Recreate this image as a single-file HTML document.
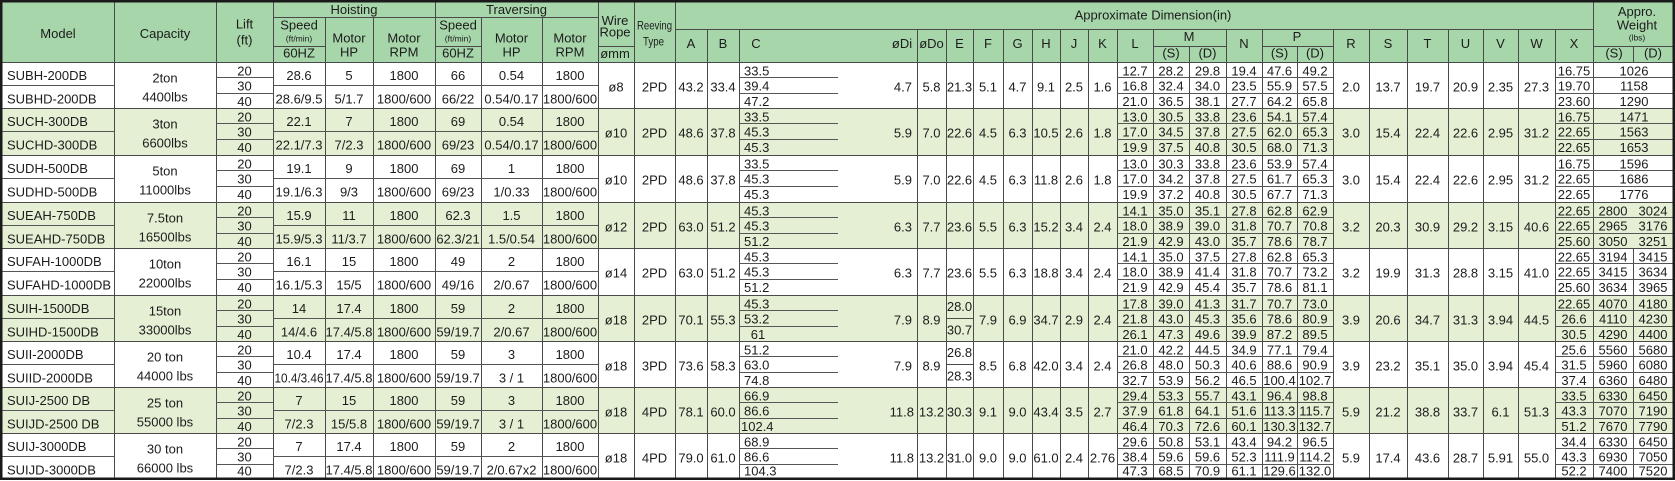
<!DOCTYPE html>
<html><head><meta charset="utf-8"><style>
html,body{margin:0;padding:0;background:#fff;}
svg{display:block;}
text{font-family:"Liberation Sans",Arial,sans-serif;font-size:13px;fill:#1c1c1c;text-anchor:middle;}
.l{text-anchor:start;}
.e{text-anchor:end;}
.s{font-size:8.5px;}
</style></head><body>
<svg width="1675" height="481" viewBox="0 0 1675 481" xmlns="http://www.w3.org/2000/svg">
<defs>
<g id="gl" stroke="#555" stroke-width="1" fill="none" shape-rendering="crispEdges">
<path d="M2 23.5H114M273 23.5H598M216 15.5H273M216 31.5H273M739 15.5H838M739 31.5H838M1117 15.5H1333M1117 31.5H1333M1555 15.5H1673M1555 31.5H1673"/>
</g>
</defs>
<rect x="0" y="0" width="1675" height="481" fill="#fff"/>
<rect x="0" y="0" width="1675" height="62" fill="#a7d6aa"/>
<rect x="2" y="108" width="1671" height="47" fill="#e5efd4"/>
<rect x="2" y="202" width="1671" height="46" fill="#e5efd4"/>
<rect x="2" y="295" width="1671" height="46" fill="#e5efd4"/>
<rect x="2" y="387" width="1671" height="46" fill="#e5efd4"/>

<g stroke="#4a4a4a" stroke-width="1" fill="none" shape-rendering="crispEdges">
<path d="M114.5 2V478M216.5 2V478M273.5 2V478M435.5 2V478M598.5 2V478M634.5 2V478M675.5 2V478M1593.5 2V478"/>
<path d="M325.5 17V478M373.5 17V478M481.5 17V478M542.5 17V478"/>
<path d="M707.5 29V478M739.5 29V478M917.5 29V478M946.5 29V478M973.5 29V478M1003.5 29V478M1032.5 29V478M1060.5 29V478M1088.5 29V478M1117.5 29V478M1153.5 29V478M1226.5 29V478M1262.5 29V478M1333.5 29V478M1369.5 29V478M1407.5 29V478M1448.5 29V478M1483.5 29V478M1518.5 29V478M1555.5 29V478"/>
<path d="M1189.5 46V478M1297.5 46V478M1633.5 46V62M1633.5 248V478"/>
<path d="M273 17.5H598M675 29.5H1593M273 46.5H325M435 46.5H481M598 46.5H634M1153 46.5H1226M1262 46.5H1333M1593 46.5H1673M2 62.5H1673"/>
<path d="M2 108.5H1673M2 155.5H1673M2 202.5H1673M2 248.5H1673M2 295.5H1673M2 341.5H1673M2 387.5H1673M2 433.5H1673"/>
<path d="M946 318.5H973M946 364.5H973"/>
</g>
<use href="#gl" transform="translate(0,62)"/>
<use href="#gl" transform="translate(0,108)"/>
<use href="#gl" transform="translate(0,155)"/>
<use href="#gl" transform="translate(0,202)"/>
<use href="#gl" transform="translate(0,248)"/>
<use href="#gl" transform="translate(0,295)"/>
<use href="#gl" transform="translate(0,341)"/>
<use href="#gl" transform="translate(0,387)"/>
<use href="#gl" transform="translate(0,433)"/>
<rect x="1.25" y="1.25" width="1672.5" height="477.5" fill="none" stroke="#1a1a1a" stroke-width="2.5"/>

<!-- HEADER -->
<text x="58" y="38">Model</text>
<text x="165" y="38">Capacity</text>
<text x="244.5" y="28.5">Lift</text>
<text x="244.5" y="44.5">(ft)</text>
<text x="354" y="14">Hoisting</text>
<text x="516.5" y="14">Traversing</text>
<text x="299" y="29.5">Speed</text>
<text x="299" y="41.5" class="s">(ft/min)</text>
<text x="299" y="57.5">60HZ</text>
<text x="349" y="42.5">Motor</text>
<text x="349" y="56.5">HP</text>
<text x="404" y="42.5">Motor</text>
<text x="404" y="56.5">RPM</text>
<text x="458" y="29.5">Speed</text>
<text x="458" y="41.5" class="s">(ft/min)</text>
<text x="458" y="57.5">60HZ</text>
<text x="511.5" y="42.5">Motor</text>
<text x="511.5" y="56.5">HP</text>
<text x="570" y="42.5">Motor</text>
<text x="570" y="56.5">RPM</text>
<text x="615" y="25">Wire</text>
<text x="615" y="36.5">Rope</text>
<text x="615" y="58">ømm</text>
<text x="654.5" y="29.5" style="font-size:12px" textLength="35" lengthAdjust="spacingAndGlyphs">Reeving</text>
<text x="653.5" y="45.5" style="font-size:12px" textLength="21" lengthAdjust="spacingAndGlyphs">Type</text>
<text x="1153" y="19.5">Approximate Dimension(in)</text>
<text y="48"><tspan x="691">A</tspan><tspan x="723">B</tspan><tspan x="756">C</tspan><tspan x="902">øDi</tspan><tspan x="931.5">øDo</tspan><tspan x="959.5">E</tspan><tspan x="988">F</tspan><tspan x="1017.5">G</tspan><tspan x="1046">H</tspan><tspan x="1074">J</tspan><tspan x="1102.5">K</tspan><tspan x="1135">L</tspan><tspan x="1244">N</tspan><tspan x="1351">R</tspan><tspan x="1388">S</tspan><tspan x="1427.5">T</tspan><tspan x="1465.5">U</tspan><tspan x="1500.5">V</tspan><tspan x="1536.5">W</tspan><tspan x="1574">X</tspan></text>
<text y="41"><tspan x="1189">M</tspan><tspan x="1297">P</tspan></text>
<text y="57.5"><tspan x="1171">(S)</tspan><tspan x="1207.5">(D)</tspan><tspan x="1279.5">(S)</tspan><tspan x="1315">(D)</tspan><tspan x="1614">(S)</tspan><tspan x="1653">(D)</tspan></text>
<text x="1637" y="16">Appro.</text>
<text x="1637" y="29.5">Weight</text>
<text x="1637" y="40.5" class="s">(lbs)</text>

<!-- GROUP 1 -->
<g transform="translate(0,62)">
<text x="7" y="18" class="l">SUBH-200DB</text>
<text x="7" y="41.5" class="l">SUBHD-200DB</text>
<text x="165" y="20.5">2ton</text><text x="165" y="39.5">4400lbs</text>
<text y="18"><tspan x="299">28.6</tspan><tspan x="349">5</tspan><tspan x="404">1800</tspan><tspan x="458">66</tspan><tspan x="511.5">0.54</tspan><tspan x="570">1800</tspan></text>
<text y="41.5"><tspan x="299">28.6/9.5</tspan><tspan x="349">5/1.7</tspan><tspan x="404">1800/600</tspan><tspan x="458">66/22</tspan><tspan x="511.5">0.54/0.17</tspan><tspan x="570">1800/600</tspan></text>
<text y="29.5"><tspan x="616">ø8</tspan><tspan x="654.5">2PD</tspan><tspan x="691">43.2</tspan><tspan x="723">33.4</tspan><tspan x="931.5">5.8</tspan><tspan x="959.5">21.3</tspan><tspan x="988">5.1</tspan><tspan x="1017.5">4.7</tspan><tspan x="1046">9.1</tspan><tspan x="1074">2.5</tspan><tspan x="1102.5">1.6</tspan><tspan x="1351">2.0</tspan><tspan x="1388">13.7</tspan><tspan x="1427.5">19.7</tspan><tspan x="1465.5">20.9</tspan><tspan x="1500.5">2.35</tspan><tspan x="1536.5">27.3</tspan></text>
<text x="912" y="29.5" class="e">4.7</text>
<text class="l" x="744" y="13.5">33.5</text><text class="l" x="744" y="28.5">39.4</text><text class="l" x="744" y="44">47.2</text>
<text y="13.5"><tspan x="244.5">20</tspan><tspan x="1135">12.7</tspan><tspan x="1171">28.2</tspan><tspan x="1207.5">29.8</tspan><tspan x="1244">19.4</tspan><tspan x="1279.5">47.6</tspan><tspan x="1315">49.2</tspan><tspan x="1574">16.75</tspan><tspan x="1634">1026</tspan></text>
<text y="28.5"><tspan x="244.5">30</tspan><tspan x="1135">16.8</tspan><tspan x="1171">32.4</tspan><tspan x="1207.5">34.0</tspan><tspan x="1244">23.5</tspan><tspan x="1279.5">55.9</tspan><tspan x="1315">57.5</tspan><tspan x="1574">19.70</tspan><tspan x="1634">1158</tspan></text>
<text y="44"><tspan x="244.5">40</tspan><tspan x="1135">21.0</tspan><tspan x="1171">36.5</tspan><tspan x="1207.5">38.1</tspan><tspan x="1244">27.7</tspan><tspan x="1279.5">64.2</tspan><tspan x="1315">65.8</tspan><tspan x="1574">23.60</tspan><tspan x="1634">1290</tspan></text>
</g>

<!-- GROUP 2 -->
<g transform="translate(0,108)">
<text x="7" y="18" class="l">SUCH-300DB</text>
<text x="7" y="41.5" class="l">SUCHD-300DB</text>
<text x="165" y="20.5">3ton</text><text x="165" y="39.5">6600lbs</text>
<text y="18"><tspan x="299">22.1</tspan><tspan x="349">7</tspan><tspan x="404">1800</tspan><tspan x="458">69</tspan><tspan x="511.5">0.54</tspan><tspan x="570">1800</tspan></text>
<text y="41.5"><tspan x="299">22.1/7.3</tspan><tspan x="349">7/2.3</tspan><tspan x="404">1800/600</tspan><tspan x="458">69/23</tspan><tspan x="511.5">0.54/0.17</tspan><tspan x="570">1800/600</tspan></text>
<text y="29.5"><tspan x="616">ø10</tspan><tspan x="654.5">2PD</tspan><tspan x="691">48.6</tspan><tspan x="723">37.8</tspan><tspan x="931.5">7.0</tspan><tspan x="959.5">22.6</tspan><tspan x="988">4.5</tspan><tspan x="1017.5">6.3</tspan><tspan x="1046">10.5</tspan><tspan x="1074">2.6</tspan><tspan x="1102.5">1.8</tspan><tspan x="1351">3.0</tspan><tspan x="1388">15.4</tspan><tspan x="1427.5">22.4</tspan><tspan x="1465.5">22.6</tspan><tspan x="1500.5">2.95</tspan><tspan x="1536.5">31.2</tspan></text>
<text x="912" y="29.5" class="e">5.9</text>
<text class="l" x="744" y="13.5">33.5</text><text class="l" x="744" y="28.5">45.3</text><text class="l" x="744" y="44">45.3</text>
<text y="13.5"><tspan x="244.5">20</tspan><tspan x="1135">13.0</tspan><tspan x="1171">30.5</tspan><tspan x="1207.5">33.8</tspan><tspan x="1244">23.6</tspan><tspan x="1279.5">54.1</tspan><tspan x="1315">57.4</tspan><tspan x="1574">16.75</tspan><tspan x="1634">1471</tspan></text>
<text y="28.5"><tspan x="244.5">30</tspan><tspan x="1135">17.0</tspan><tspan x="1171">34.5</tspan><tspan x="1207.5">37.8</tspan><tspan x="1244">27.5</tspan><tspan x="1279.5">62.0</tspan><tspan x="1315">65.3</tspan><tspan x="1574">22.65</tspan><tspan x="1634">1563</tspan></text>
<text y="44"><tspan x="244.5">40</tspan><tspan x="1135">19.9</tspan><tspan x="1171">37.5</tspan><tspan x="1207.5">40.8</tspan><tspan x="1244">30.5</tspan><tspan x="1279.5">68.0</tspan><tspan x="1315">71.3</tspan><tspan x="1574">22.65</tspan><tspan x="1634">1653</tspan></text>
</g>

<!-- GROUP 3 -->
<g transform="translate(0,155)">
<text x="7" y="18" class="l">SUDH-500DB</text>
<text x="7" y="41.5" class="l">SUDHD-500DB</text>
<text x="165" y="20.5">5ton</text><text x="165" y="39.5">11000lbs</text>
<text y="18"><tspan x="299">19.1</tspan><tspan x="349">9</tspan><tspan x="404">1800</tspan><tspan x="458">69</tspan><tspan x="511.5">1</tspan><tspan x="570">1800</tspan></text>
<text y="41.5"><tspan x="299">19.1/6.3</tspan><tspan x="349">9/3</tspan><tspan x="404">1800/600</tspan><tspan x="458">69/23</tspan><tspan x="511.5">1/0.33</tspan><tspan x="570">1800/600</tspan></text>
<text y="29.5"><tspan x="616">ø10</tspan><tspan x="654.5">2PD</tspan><tspan x="691">48.6</tspan><tspan x="723">37.8</tspan><tspan x="931.5">7.0</tspan><tspan x="959.5">22.6</tspan><tspan x="988">4.5</tspan><tspan x="1017.5">6.3</tspan><tspan x="1046">11.8</tspan><tspan x="1074">2.6</tspan><tspan x="1102.5">1.8</tspan><tspan x="1351">3.0</tspan><tspan x="1388">15.4</tspan><tspan x="1427.5">22.4</tspan><tspan x="1465.5">22.6</tspan><tspan x="1500.5">2.95</tspan><tspan x="1536.5">31.2</tspan></text>
<text x="912" y="29.5" class="e">5.9</text>
<text class="l" x="744" y="13.5">33.5</text><text class="l" x="744" y="28.5">45.3</text><text class="l" x="744" y="44">45.3</text>
<text y="13.5"><tspan x="244.5">20</tspan><tspan x="1135">13.0</tspan><tspan x="1171">30.3</tspan><tspan x="1207.5">33.8</tspan><tspan x="1244">23.6</tspan><tspan x="1279.5">53.9</tspan><tspan x="1315">57.4</tspan><tspan x="1574">16.75</tspan><tspan x="1634">1596</tspan></text>
<text y="28.5"><tspan x="244.5">30</tspan><tspan x="1135">17.0</tspan><tspan x="1171">34.2</tspan><tspan x="1207.5">37.8</tspan><tspan x="1244">27.5</tspan><tspan x="1279.5">61.7</tspan><tspan x="1315">65.3</tspan><tspan x="1574">22.65</tspan><tspan x="1634">1686</tspan></text>
<text y="44"><tspan x="244.5">40</tspan><tspan x="1135">19.9</tspan><tspan x="1171">37.2</tspan><tspan x="1207.5">40.8</tspan><tspan x="1244">30.5</tspan><tspan x="1279.5">67.7</tspan><tspan x="1315">71.3</tspan><tspan x="1574">22.65</tspan><tspan x="1634">1776</tspan></text>
</g>

<!-- GROUP 4 -->
<g transform="translate(0,202)">
<text x="7" y="18" class="l">SUEAH-750DB</text>
<text x="7" y="41.5" class="l">SUEAHD-750DB</text>
<text x="165" y="20.5">7.5ton</text><text x="165" y="39.5">16500lbs</text>
<text y="18"><tspan x="299">15.9</tspan><tspan x="349">11</tspan><tspan x="404">1800</tspan><tspan x="458">62.3</tspan><tspan x="511.5">1.5</tspan><tspan x="570">1800</tspan></text>
<text y="41.5"><tspan x="299">15.9/5.3</tspan><tspan x="349">11/3.7</tspan><tspan x="404">1800/600</tspan><tspan x="458">62.3/21</tspan><tspan x="511.5">1.5/0.54</tspan><tspan x="570">1800/600</tspan></text>
<text y="29.5"><tspan x="616">ø12</tspan><tspan x="654.5">2PD</tspan><tspan x="691">63.0</tspan><tspan x="723">51.2</tspan><tspan x="931.5">7.7</tspan><tspan x="959.5">23.6</tspan><tspan x="988">5.5</tspan><tspan x="1017.5">6.3</tspan><tspan x="1046">15.2</tspan><tspan x="1074">3.4</tspan><tspan x="1102.5">2.4</tspan><tspan x="1351">3.2</tspan><tspan x="1388">20.3</tspan><tspan x="1427.5">30.9</tspan><tspan x="1465.5">29.2</tspan><tspan x="1500.5">3.15</tspan><tspan x="1536.5">40.6</tspan></text>
<text x="912" y="29.5" class="e">6.3</text>
<text class="l" x="744" y="13.5">45.3</text><text class="l" x="744" y="28.5">45.3</text><text class="l" x="744" y="44">51.2</text>
<text y="13.5"><tspan x="244.5">20</tspan><tspan x="1135">14.1</tspan><tspan x="1171">35.0</tspan><tspan x="1207.5">35.1</tspan><tspan x="1244">27.8</tspan><tspan x="1279.5">62.8</tspan><tspan x="1315">62.9</tspan><tspan x="1574">22.65</tspan><tspan x="1613">2800</tspan><tspan x="1653">3024</tspan></text>
<text y="28.5"><tspan x="244.5">30</tspan><tspan x="1135">18.0</tspan><tspan x="1171">38.9</tspan><tspan x="1207.5">39.0</tspan><tspan x="1244">31.8</tspan><tspan x="1279.5">70.7</tspan><tspan x="1315">70.8</tspan><tspan x="1574">22.65</tspan><tspan x="1613">2965</tspan><tspan x="1653">3176</tspan></text>
<text y="44"><tspan x="244.5">40</tspan><tspan x="1135">21.9</tspan><tspan x="1171">42.9</tspan><tspan x="1207.5">43.0</tspan><tspan x="1244">35.7</tspan><tspan x="1279.5">78.6</tspan><tspan x="1315">78.7</tspan><tspan x="1574">25.60</tspan><tspan x="1613">3050</tspan><tspan x="1653">3251</tspan></text>
</g>

<!-- GROUP 5 -->
<g transform="translate(0,248)">
<text x="7" y="18" class="l">SUFAH-1000DB</text>
<text x="7" y="41.5" class="l" textLength="104" lengthAdjust="spacingAndGlyphs">SUFAHD-1000DB</text>
<text x="165" y="20.5">10ton</text><text x="165" y="39.5">22000lbs</text>
<text y="18"><tspan x="299">16.1</tspan><tspan x="349">15</tspan><tspan x="404">1800</tspan><tspan x="458">49</tspan><tspan x="511.5">2</tspan><tspan x="570">1800</tspan></text>
<text y="41.5"><tspan x="299">16.1/5.3</tspan><tspan x="349">15/5</tspan><tspan x="404">1800/600</tspan><tspan x="458">49/16</tspan><tspan x="511.5">2/0.67</tspan><tspan x="570">1800/600</tspan></text>
<text y="29.5"><tspan x="616">ø14</tspan><tspan x="654.5">2PD</tspan><tspan x="691">63.0</tspan><tspan x="723">51.2</tspan><tspan x="931.5">7.7</tspan><tspan x="959.5">23.6</tspan><tspan x="988">5.5</tspan><tspan x="1017.5">6.3</tspan><tspan x="1046">18.8</tspan><tspan x="1074">3.4</tspan><tspan x="1102.5">2.4</tspan><tspan x="1351">3.2</tspan><tspan x="1388">19.9</tspan><tspan x="1427.5">31.3</tspan><tspan x="1465.5">28.8</tspan><tspan x="1500.5">3.15</tspan><tspan x="1536.5">41.0</tspan></text>
<text x="912" y="29.5" class="e">6.3</text>
<text class="l" x="744" y="13.5">45.3</text><text class="l" x="744" y="28.5">45.3</text><text class="l" x="744" y="44">51.2</text>
<text y="13.5"><tspan x="244.5">20</tspan><tspan x="1135">14.1</tspan><tspan x="1171">35.0</tspan><tspan x="1207.5">37.5</tspan><tspan x="1244">27.8</tspan><tspan x="1279.5">62.8</tspan><tspan x="1315">65.3</tspan><tspan x="1574">22.65</tspan><tspan x="1613">3194</tspan><tspan x="1653">3415</tspan></text>
<text y="28.5"><tspan x="244.5">30</tspan><tspan x="1135">18.0</tspan><tspan x="1171">38.9</tspan><tspan x="1207.5">41.4</tspan><tspan x="1244">31.8</tspan><tspan x="1279.5">70.7</tspan><tspan x="1315">73.2</tspan><tspan x="1574">22.65</tspan><tspan x="1613">3415</tspan><tspan x="1653">3634</tspan></text>
<text y="44"><tspan x="244.5">40</tspan><tspan x="1135">21.9</tspan><tspan x="1171">42.9</tspan><tspan x="1207.5">45.4</tspan><tspan x="1244">35.7</tspan><tspan x="1279.5">78.6</tspan><tspan x="1315">81.1</tspan><tspan x="1574">25.60</tspan><tspan x="1613">3634</tspan><tspan x="1653">3965</tspan></text>
</g>

<!-- GROUP 6 -->
<g transform="translate(0,295)">
<text x="7" y="18" class="l">SUIH-1500DB</text>
<text x="7" y="41.5" class="l">SUIHD-1500DB</text>
<text x="165" y="20.5">15ton</text><text x="165" y="39.5">33000lbs</text>
<text y="18"><tspan x="299">14</tspan><tspan x="349">17.4</tspan><tspan x="404">1800</tspan><tspan x="458">59</tspan><tspan x="511.5">2</tspan><tspan x="570">1800</tspan></text>
<text y="41.5"><tspan x="299">14/4.6</tspan><tspan x="349">17.4/5.8</tspan><tspan x="404">1800/600</tspan><tspan x="458">59/19.7</tspan><tspan x="511.5">2/0.67</tspan><tspan x="570">1800/600</tspan></text>
<text y="29.5"><tspan x="616">ø18</tspan><tspan x="654.5">2PD</tspan><tspan x="691">70.1</tspan><tspan x="723">55.3</tspan><tspan x="931.5">8.9</tspan><tspan x="988">7.9</tspan><tspan x="1017.5">6.9</tspan><tspan x="1046">34.7</tspan><tspan x="1074">2.9</tspan><tspan x="1102.5">2.4</tspan><tspan x="1351">3.9</tspan><tspan x="1388">20.6</tspan><tspan x="1427.5">34.7</tspan><tspan x="1465.5">31.3</tspan><tspan x="1500.5">3.94</tspan><tspan x="1536.5">44.5</tspan></text>
<text x="912" y="29.5" class="e">7.9</text>
<text x="959.5" y="16">28.0</text><text x="959.5" y="39.5">30.7</text>
<text class="l" x="744" y="13.5">45.3</text><text class="l" x="744" y="28.5">53.2</text><text x="758" y="44">61</text>
<text y="13.5"><tspan x="244.5">20</tspan><tspan x="1135">17.8</tspan><tspan x="1171">39.0</tspan><tspan x="1207.5">41.3</tspan><tspan x="1244">31.7</tspan><tspan x="1279.5">70.7</tspan><tspan x="1315">73.0</tspan><tspan x="1574">22.65</tspan><tspan x="1613">4070</tspan><tspan x="1653">4180</tspan></text>
<text y="28.5"><tspan x="244.5">30</tspan><tspan x="1135">21.8</tspan><tspan x="1171">43.0</tspan><tspan x="1207.5">45.3</tspan><tspan x="1244">35.6</tspan><tspan x="1279.5">78.6</tspan><tspan x="1315">80.9</tspan><tspan x="1574">26.6</tspan><tspan x="1613">4110</tspan><tspan x="1653">4230</tspan></text>
<text y="44"><tspan x="244.5">40</tspan><tspan x="1135">26.1</tspan><tspan x="1171">47.3</tspan><tspan x="1207.5">49.6</tspan><tspan x="1244">39.9</tspan><tspan x="1279.5">87.2</tspan><tspan x="1315">89.5</tspan><tspan x="1574">30.5</tspan><tspan x="1613">4290</tspan><tspan x="1653">4400</tspan></text>
</g>

<!-- GROUP 7 -->
<g transform="translate(0,341)">
<text x="7" y="18" class="l">SUII-2000DB</text>
<text x="7" y="41.5" class="l">SUIID-2000DB</text>
<text x="165" y="20.5">20 ton</text><text x="165" y="39.5">44000 lbs</text>
<text y="18"><tspan x="299">10.4</tspan><tspan x="349">17.4</tspan><tspan x="404">1800</tspan><tspan x="458">59</tspan><tspan x="511.5">3</tspan><tspan x="570">1800</tspan></text>
<text x="299" y="41.5" textLength="49" lengthAdjust="spacingAndGlyphs">10.4/3.46</text>
<text y="41.5"><tspan x="349">17.4/5.8</tspan><tspan x="404">1800/600</tspan><tspan x="458">59/19.7</tspan><tspan x="511.5">3 / 1</tspan><tspan x="570">1800/600</tspan></text>
<text y="29.5"><tspan x="616">ø18</tspan><tspan x="654.5">3PD</tspan><tspan x="691">73.6</tspan><tspan x="723">58.3</tspan><tspan x="931.5">8.9</tspan><tspan x="988">8.5</tspan><tspan x="1017.5">6.8</tspan><tspan x="1046">42.0</tspan><tspan x="1074">3.4</tspan><tspan x="1102.5">2.4</tspan><tspan x="1351">3.9</tspan><tspan x="1388">23.2</tspan><tspan x="1427.5">35.1</tspan><tspan x="1465.5">35.0</tspan><tspan x="1500.5">3.94</tspan><tspan x="1536.5">45.4</tspan></text>
<text x="912" y="29.5" class="e">7.9</text>
<text x="959.5" y="16">26.8</text><text x="959.5" y="39.5">28.3</text>
<text class="l" x="744" y="13.5">51.2</text><text class="l" x="744" y="28.5">63.0</text><text class="l" x="744" y="44">74.8</text>
<text y="13.5"><tspan x="244.5">20</tspan><tspan x="1135">21.0</tspan><tspan x="1171">42.2</tspan><tspan x="1207.5">44.5</tspan><tspan x="1244">34.9</tspan><tspan x="1279.5">77.1</tspan><tspan x="1315">79.4</tspan><tspan x="1574">25.6</tspan><tspan x="1613">5560</tspan><tspan x="1653">5680</tspan></text>
<text y="28.5"><tspan x="244.5">30</tspan><tspan x="1135">26.8</tspan><tspan x="1171">48.0</tspan><tspan x="1207.5">50.3</tspan><tspan x="1244">40.6</tspan><tspan x="1279.5">88.6</tspan><tspan x="1315">90.9</tspan><tspan x="1574">31.5</tspan><tspan x="1613">5960</tspan><tspan x="1653">6080</tspan></text>
<text y="44"><tspan x="244.5">40</tspan><tspan x="1135">32.7</tspan><tspan x="1171">53.9</tspan><tspan x="1207.5">56.2</tspan><tspan x="1244">46.5</tspan><tspan x="1279.5">100.4</tspan><tspan x="1315">102.7</tspan><tspan x="1574">37.4</tspan><tspan x="1613">6360</tspan><tspan x="1653">6480</tspan></text>
</g>

<!-- GROUP 8 -->
<g transform="translate(0,387)">
<text x="7" y="18" class="l">SUIJ-2500 DB</text>
<text x="7" y="41.5" class="l">SUIJD-2500 DB</text>
<text x="165" y="20.5">25 ton</text><text x="165" y="39.5">55000 lbs</text>
<text y="18"><tspan x="299">7</tspan><tspan x="349">15</tspan><tspan x="404">1800</tspan><tspan x="458">59</tspan><tspan x="511.5">3</tspan><tspan x="570">1800</tspan></text>
<text y="41.5"><tspan x="299">7/2.3</tspan><tspan x="349">15/5.8</tspan><tspan x="404">1800/600</tspan><tspan x="458">59/19.7</tspan><tspan x="511.5">3 / 1</tspan><tspan x="570">1800/600</tspan></text>
<text y="29.5"><tspan x="616">ø18</tspan><tspan x="654.5">4PD</tspan><tspan x="691">78.1</tspan><tspan x="723">60.0</tspan><tspan x="931.5">13.2</tspan><tspan x="959.5">30.3</tspan><tspan x="988">9.1</tspan><tspan x="1017.5">9.0</tspan><tspan x="1046">43.4</tspan><tspan x="1074">3.5</tspan><tspan x="1102.5">2.7</tspan><tspan x="1351">5.9</tspan><tspan x="1388">21.2</tspan><tspan x="1427.5">38.8</tspan><tspan x="1465.5">33.7</tspan><tspan x="1500.5">6.1</tspan><tspan x="1536.5">51.3</tspan></text>
<text x="914" y="29.5" class="e">11.8</text>
<text class="l" x="744" y="13.5">66.9</text><text class="l" x="744" y="28.5">86.6</text><text class="l" x="741" y="44">102.4</text>
<text y="13.5"><tspan x="244.5">20</tspan><tspan x="1135">29.4</tspan><tspan x="1171">53.3</tspan><tspan x="1207.5">55.7</tspan><tspan x="1244">43.1</tspan><tspan x="1279.5">96.4</tspan><tspan x="1315">98.8</tspan><tspan x="1574">33.5</tspan><tspan x="1613">6330</tspan><tspan x="1653">6450</tspan></text>
<text y="28.5"><tspan x="244.5">30</tspan><tspan x="1135">37.9</tspan><tspan x="1171">61.8</tspan><tspan x="1207.5">64.1</tspan><tspan x="1244">51.6</tspan><tspan x="1279.5">113.3</tspan><tspan x="1315">115.7</tspan><tspan x="1574">43.3</tspan><tspan x="1613">7070</tspan><tspan x="1653">7190</tspan></text>
<text y="44"><tspan x="244.5">40</tspan><tspan x="1135">46.4</tspan><tspan x="1171">70.3</tspan><tspan x="1207.5">72.6</tspan><tspan x="1244">60.1</tspan><tspan x="1279.5">130.3</tspan><tspan x="1315">132.7</tspan><tspan x="1574">51.2</tspan><tspan x="1613">7670</tspan><tspan x="1653">7790</tspan></text>
</g>

<!-- GROUP 9 -->
<g transform="translate(0,433)">
<text x="7" y="18" class="l">SUIJ-3000DB</text>
<text x="7" y="41.5" class="l">SUIJD-3000DB</text>
<text x="165" y="20.5">30 ton</text><text x="165" y="39.5">66000 lbs</text>
<text y="18"><tspan x="299">7</tspan><tspan x="349">17.4</tspan><tspan x="404">1800</tspan><tspan x="458">59</tspan><tspan x="511.5">2</tspan><tspan x="570">1800</tspan></text>
<text y="41.5"><tspan x="299">7/2.3</tspan><tspan x="349">17.4/5.8</tspan><tspan x="404">1800/600</tspan><tspan x="458">59/19.7</tspan><tspan x="511.5">2/0.67x2</tspan><tspan x="570">1800/600</tspan></text>
<text y="29.5"><tspan x="616">ø18</tspan><tspan x="654.5">4PD</tspan><tspan x="691">79.0</tspan><tspan x="723">61.0</tspan><tspan x="931.5">13.2</tspan><tspan x="959.5">31.0</tspan><tspan x="988">9.0</tspan><tspan x="1017.5">9.0</tspan><tspan x="1046">61.0</tspan><tspan x="1074">2.4</tspan><tspan x="1102.5">2.76</tspan><tspan x="1351">5.9</tspan><tspan x="1388">17.4</tspan><tspan x="1427.5">43.6</tspan><tspan x="1465.5">28.7</tspan><tspan x="1500.5">5.91</tspan><tspan x="1536.5">55.0</tspan></text>
<text x="914" y="29.5" class="e">11.8</text>
<text class="l" x="744" y="13.5">68.9</text><text class="l" x="744" y="28.5">86.6</text><text class="l" x="744" y="42.5">104.3</text>
<text y="13.5"><tspan x="244.5">20</tspan><tspan x="1135">29.6</tspan><tspan x="1171">50.8</tspan><tspan x="1207.5">53.1</tspan><tspan x="1244">43.4</tspan><tspan x="1279.5">94.2</tspan><tspan x="1315">96.5</tspan><tspan x="1574">34.4</tspan><tspan x="1613">6330</tspan><tspan x="1653">6450</tspan></text>
<text y="28.5"><tspan x="244.5">30</tspan><tspan x="1135">38.4</tspan><tspan x="1171">59.6</tspan><tspan x="1207.5">59.6</tspan><tspan x="1244">52.3</tspan><tspan x="1279.5">111.9</tspan><tspan x="1315">114.2</tspan><tspan x="1574">43.3</tspan><tspan x="1613">6930</tspan><tspan x="1653">7050</tspan></text>
<text y="42.5"><tspan x="244.5">40</tspan><tspan x="1135">47.3</tspan><tspan x="1171">68.5</tspan><tspan x="1207.5">70.9</tspan><tspan x="1244">61.1</tspan><tspan x="1279.5">129.6</tspan><tspan x="1315">132.0</tspan><tspan x="1574">52.2</tspan><tspan x="1613">7400</tspan><tspan x="1653">7520</tspan></text>
</g>
</svg>
</body></html>
